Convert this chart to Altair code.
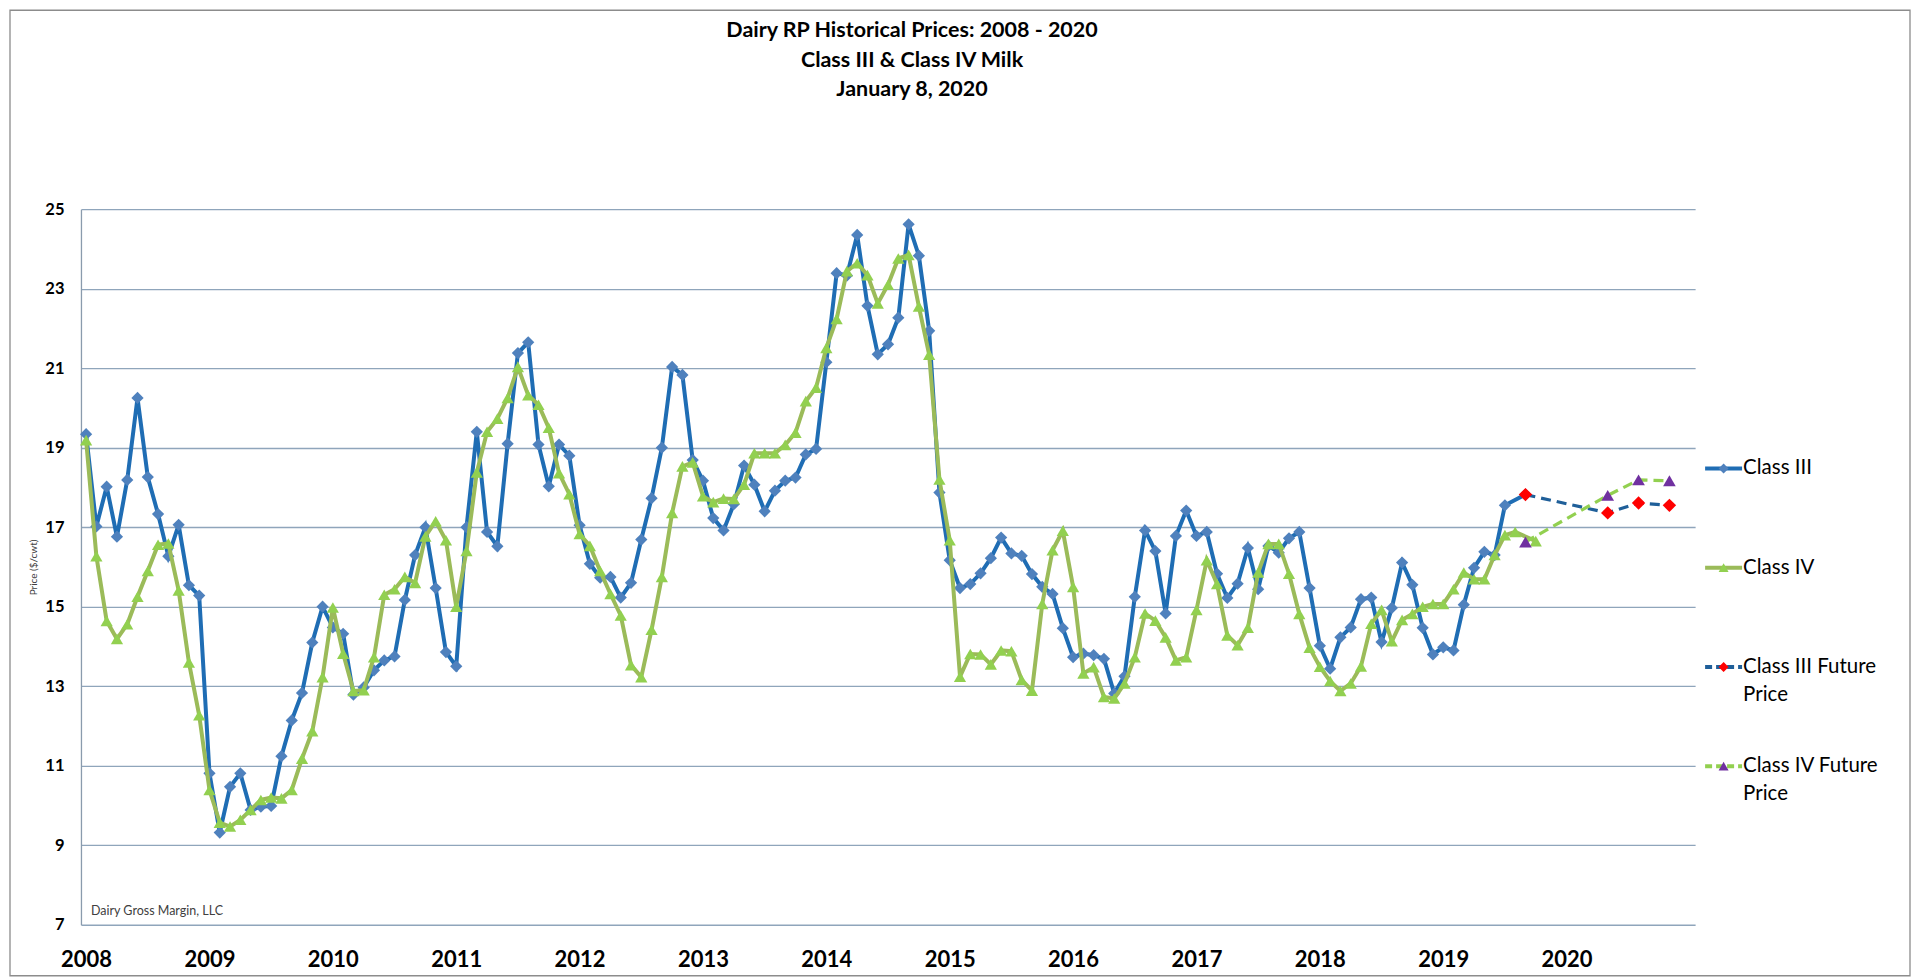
import altair as alt
import pandas as pd

FONT = "Lato"

TITLE_LINES = ["Dairy RP Historical Prices: 2008 - 2020", "Class III  & Class IV Milk", "January 8, 2020"]
YEARS = [str(y) for y in range(2008, 2021)]
Y_TICKS = [7, 9, 11, 13, 15, 17, 19, 21, 23, 25]
FOOTNOTE = "Dairy Gross Margin, LLC"

# Monthly prices ($/cwt), Jan 2008 onward (month index 0 = Jan 2008)
CLASS3 = [
    19.34, 17.02, 18.02, 16.76, 18.19, 20.25, 18.26, 17.33, 16.27, 17.06, 15.54, 15.28,  # 2008
    10.81, 9.32, 10.47, 10.81, 9.89, 9.97, 9.99, 11.24, 12.14, 12.83, 14.10, 15.00,      # 2009
    14.48, 14.32, 12.79, 12.97, 13.40, 13.65, 13.75, 15.17, 16.30, 17.00, 15.47, 13.86,  # 2010
    13.50, 17.00, 19.40, 16.88, 16.52, 19.10, 21.38, 21.65, 19.08, 18.03, 19.08, 18.80,  # 2011
    17.05, 16.08, 15.73, 15.75, 15.23, 15.60, 16.69, 17.73, 19.00, 21.03, 20.83, 18.69,  # 2012
    18.17, 17.23, 16.92, 17.58, 18.55, 18.07, 17.40, 17.92, 18.17, 18.25, 18.83, 18.97,  # 2013
    21.15, 23.39, 23.33, 24.35, 22.57, 21.35, 21.60, 22.27, 24.62, 23.83, 21.94, 17.87,  # 2014
    16.17, 15.47, 15.57, 15.84, 16.22, 16.74, 16.34, 16.28, 15.82, 15.50, 15.32, 14.46,  # 2015
    13.73, 13.82, 13.78, 13.69, 12.82, 13.25, 15.25, 16.92, 16.40, 14.83, 16.78, 17.42,  # 2016
    16.78, 16.88, 15.83, 15.22, 15.58, 16.48, 15.44, 16.53, 16.36, 16.72, 16.88, 15.47,  # 2017
    14.02, 13.44, 14.23, 14.48, 15.19, 15.23, 14.11, 14.97, 16.11, 15.55, 14.47, 13.80,  # 2018
    13.98, 13.90, 15.05, 15.98, 16.38, 16.30, 17.55,                                      # 2019
    17.82,
]
CLASS3_MONTHS = list(range(0, 139)) + [140]

CLASS4 = [
    19.19, 16.27, 14.64, 14.19, 14.56, 15.25, 15.90, 16.56, 16.59, 15.41, 13.60, 12.27,  # 2008
    10.39, 9.57, 9.47, 9.64, 9.89, 10.14, 10.20, 10.18, 10.39, 11.18, 11.87, 13.23,      # 2009
    14.98, 13.82, 12.88, 12.90, 13.73, 15.30, 15.44, 15.75, 15.60, 16.77, 17.15, 16.67,  # 2010
    15.00, 16.40, 18.38, 19.40, 19.73, 20.25, 21.03, 20.32, 20.08, 19.50, 18.36, 17.83,  # 2011
    16.83, 16.53, 15.90, 15.32, 14.78, 13.53, 13.23, 14.42, 15.75, 17.36, 18.53, 18.63,  # 2012
    17.78, 17.63, 17.72, 17.71, 18.07, 18.86, 18.86, 18.86, 19.07, 19.38, 20.17, 20.51,  # 2013
    21.51, 22.24, 23.44, 23.64, 23.34, 22.63, 23.10, 23.76, 23.85, 22.55, 21.34, 18.20,  # 2014
    16.67, 13.24, 13.81, 13.80, 13.55, 13.90, 13.88, 13.16, 12.89, 15.07, 16.42, 16.91,  # 2015
    15.50, 13.32, 13.48, 12.73, 12.69, 13.07, 13.73, 14.83, 14.65, 14.23, 13.65, 13.73,  # 2016
    14.92, 16.17, 15.57, 14.28, 14.03, 14.47, 15.86, 16.58, 16.58, 15.83, 14.82, 13.97,  # 2017
    13.49, 13.13, 12.88, 13.07, 13.50, 14.57, 14.92, 14.13, 14.67, 14.82, 15.00, 15.07,  # 2018
    15.07, 15.44, 15.86, 15.69, 15.69, 16.30, 16.80, 16.88,                              # 2019
    16.65,
]
CLASS4_MONTHS = list(range(0, 140)) + [141]

FUTURE_MONTHS = [140, 148, 151, 154]
FUTURE3 = [17.82, 17.36, 17.61, 17.55]
FUTURE4 = [16.63, 17.80, 18.19, 18.17]

LEGEND_NAMES = ["Class III", "Class IV", "Class III Future Price", "Class IV Future Price"]
LEGEND_LINE1 = ["Class III", "Class IV", "Class III Future", "Class IV Future"]
LEGEND_LINE2 = ["", "", "Price", "Price"]

C3_LINE, C3_MARK = "#1F6DB4", "#4F81BD"
C4_LINE, C4_MARK = "#9BBB59", "#92D050"
F3_LINE, F3_MARK = "#1F5F99", "#FF0000"
F4_LINE, F4_MARK = "#92D050", "#7030A0"
GRID = "#8FA5BB"
FRAME = "#8C8C8C"

df3 = pd.DataFrame({"month": CLASS3_MONTHS, "price": CLASS3})
df4 = pd.DataFrame({"month": CLASS4_MONTHS, "price": CLASS4})
dff3 = pd.DataFrame({"month": FUTURE_MONTHS, "price": FUTURE3})
dff4 = pd.DataFrame({"month": FUTURE_MONTHS, "price": FUTURE4})

year_js = "[" + ",".join("'%s'" % y for y in YEARS) + "]"
x_enc = alt.X(
    "month:Q",
    scale=alt.Scale(domain=[-0.5, 156.5], nice=False, zero=False),
    axis=alt.Axis(
        values=list(range(0, 12 * len(YEARS), 12)),
        labelExpr=year_js + "[round(datum.value / 12)]",
        title=None, grid=False, ticks=False, domain=False,
        labelFont=FONT, labelFontSize=22, labelFontWeight="bold", labelColor="#000000",
        labelPadding=25, labelFlush=False, labelOverlap=False,
    ),
)
y_enc = alt.Y(
    "price:Q",
    scale=alt.Scale(domain=[7, 25], nice=False, zero=False),
    axis=alt.Axis(
        values=Y_TICKS, title="Price ($/cwt)", titleFont=FONT, titleFontSize=10,
        titleFontWeight="normal", titleColor="#404040", titlePadding=6,
        labelFont=FONT, labelFontSize=16.5, labelFontWeight="bold", labelColor="#000000",
        labelPadding=17, ticks=False, domain=True, domainColor="#8A9BAD", domainWidth=1.3,
        grid=True, gridColor=GRID, gridWidth=1.3,
    ),
)

# decorative outer frame of the whole figure (pixel offsets from the plot area)
frame = alt.Chart(pd.DataFrame({"f": [0]})).mark_rect(
    fill="#ffffff", fillOpacity=0, stroke=FRAME, strokeWidth=1.3
).encode(x=alt.value(-71), x2=alt.value(1830), y=alt.value(-199), y2=alt.value(767))

line3 = alt.Chart(df3).mark_line(color=C3_LINE, strokeWidth=4).encode(x=x_enc, y=y_enc)
pts3 = alt.Chart(df3).mark_point(shape="diamond", filled=True, size=150, color=C3_MARK, opacity=1).encode(x=x_enc, y=y_enc)
line4 = alt.Chart(df4).mark_line(color=C4_LINE, strokeWidth=4).encode(x=x_enc, y=y_enc)
pts4 = alt.Chart(df4).mark_point(shape="triangle-up", filled=True, size=150, color=C4_MARK, opacity=1).encode(x=x_enc, y=y_enc)
linef3 = alt.Chart(dff3).mark_line(color=F3_LINE, strokeWidth=3.2, strokeDash=[10, 6]).encode(x=x_enc, y=y_enc)
ptsf3 = alt.Chart(dff3).mark_point(shape="diamond", filled=True, size=180, color=F3_MARK, opacity=1).encode(x=x_enc, y=y_enc)
linef4 = alt.Chart(dff4).mark_line(color=F4_LINE, strokeWidth=3.2, strokeDash=[10, 6]).encode(x=x_enc, y=y_enc)
ptsf4 = alt.Chart(dff4).mark_point(shape="triangle-up", filled=True, size=160, color=F4_MARK, opacity=1).encode(x=x_enc, y=y_enc)

foot = alt.Chart(pd.DataFrame({"t": [FOOTNOTE]})).mark_text(
    align="left", baseline="middle", font=FONT, fontSize=12.5, color="#404040"
).encode(x=alt.value(10), y=alt.value(702), text="t:N")

main = alt.layer(frame, line3, pts3, line4, pts4, linef3, ptsf3, linef4, ptsf4, foot).properties(width=1615, height=716)

leg_df = pd.DataFrame({
    "name": LEGEND_NAMES, "l1": LEGEND_LINE1, "l2": LEGEND_LINE2, "row": list(range(len(LEGEND_NAMES)))
})
# rows 0..3 spaced ~99 px, first row ~259 px below the plot top
leg_y = alt.Y("row:Q", scale=alt.Scale(domain=[-2.612, 4.598], reverse=True, nice=False, zero=False), axis=None)
leg_rule = alt.Chart(leg_df).mark_rule(strokeWidth=4).encode(
    x=alt.value(10), x2=alt.value(47), y=leg_y,
    color=alt.Color("name:N", scale=alt.Scale(domain=LEGEND_NAMES, range=[C3_LINE, C4_LINE, F3_LINE, F4_LINE]), legend=None),
    strokeDash=alt.StrokeDash("name:N", scale=alt.Scale(domain=LEGEND_NAMES, range=[[1, 0], [1, 0], [7, 4], [7, 4]]), legend=None),
)
leg_pts = alt.Chart(leg_df).mark_point(filled=True, size=100, opacity=1).encode(
    x=alt.value(28.5), y=leg_y,
    shape=alt.Shape("name:N", scale=alt.Scale(domain=LEGEND_NAMES, range=["diamond", "triangle-up", "diamond", "triangle-up"]), legend=None),
    fill=alt.Fill("name:N", scale=alt.Scale(domain=LEGEND_NAMES, range=[C3_MARK, C4_MARK, F3_MARK, F4_MARK]), legend=None),
)
leg_t1 = alt.Chart(leg_df).mark_text(align="left", baseline="middle", font=FONT, fontSize=20.5, color="#000000").encode(
    x=alt.value(48), y=leg_y, text="l1:N")
leg_t2 = alt.Chart(leg_df).mark_text(align="left", baseline="middle", font=FONT, fontSize=20.5, color="#000000", dy=28).encode(
    x=alt.value(48), y=leg_y, text="l2:N")
legend = alt.layer(leg_rule, leg_pts, leg_t1, leg_t2).properties(width=200, height=716)

chart = alt.hconcat(main, legend, spacing=0, bounds="flush").properties(
    title=alt.TitleParams(
        text=TITLE_LINES, font=FONT, fontSize=21.5, fontWeight="bold", color="#000000",
        lineHeight=29.5, anchor="middle", offset=-91, dx=-48,
    ),
    padding={"left": 1, "top": 1, "right": 1, "bottom": 0},
).configure(background="white").configure_view(stroke=None, strokeWidth=0)

chart.save("out.html", embed_options={"renderer": "svg", "actions": False})
